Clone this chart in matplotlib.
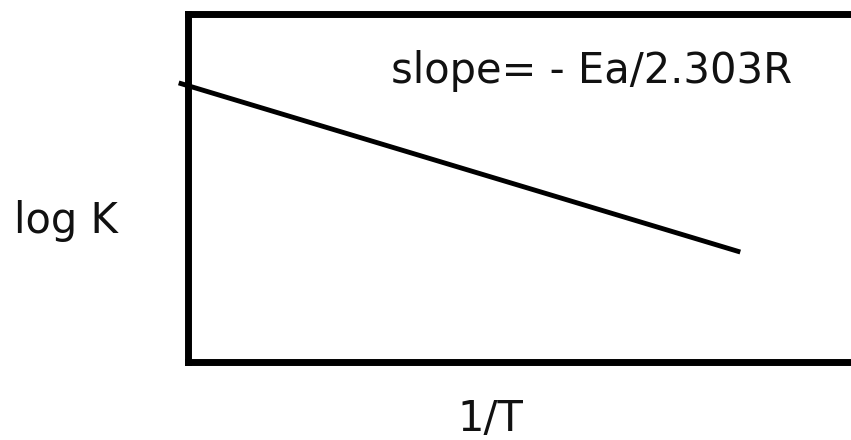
import matplotlib.pyplot as plt

# Data (axes fraction units)
inv_T = [-0.014, 0.833]
log_k = [0.802, 0.316]

slope_label = 'slope= - Ea/2.303R'
x_label = '1/T'
y_label = 'log K'

plt.rcParams['font.family'] = ['DejaVu Sans']

fig = plt.figure(figsize=(8.51, 4.40), dpi=100)
ax = fig.add_axes([188 / 851, 78 / 440, 1 - 188 / 851, 348 / 440])

ax.plot(inv_T, log_k, color='black', lw=3.5, clip_on=False, solid_capstyle='butt')

ax.set_xlim(0, 1)
ax.set_ylim(0, 1)
ax.set_xticks([])
ax.set_yticks([])
for side in ['left', 'top', 'bottom']:
    ax.spines[side].set_linewidth(5)
ax.spines['right'].set_visible(False)

# labels centred on where they sit in the reference
txt_kw = dict(fontsize=30, ha='center', va='baseline', color='#111111')
fig.text(592 / 851, 1 - 83 / 440, slope_label, **txt_kw)
fig.text(66 / 851, 1 - 233 / 440, y_label, **txt_kw)
fig.text(490 / 851, 1 - 431 / 440, x_label, **txt_kw)

plt.savefig('out.png', dpi=100)
